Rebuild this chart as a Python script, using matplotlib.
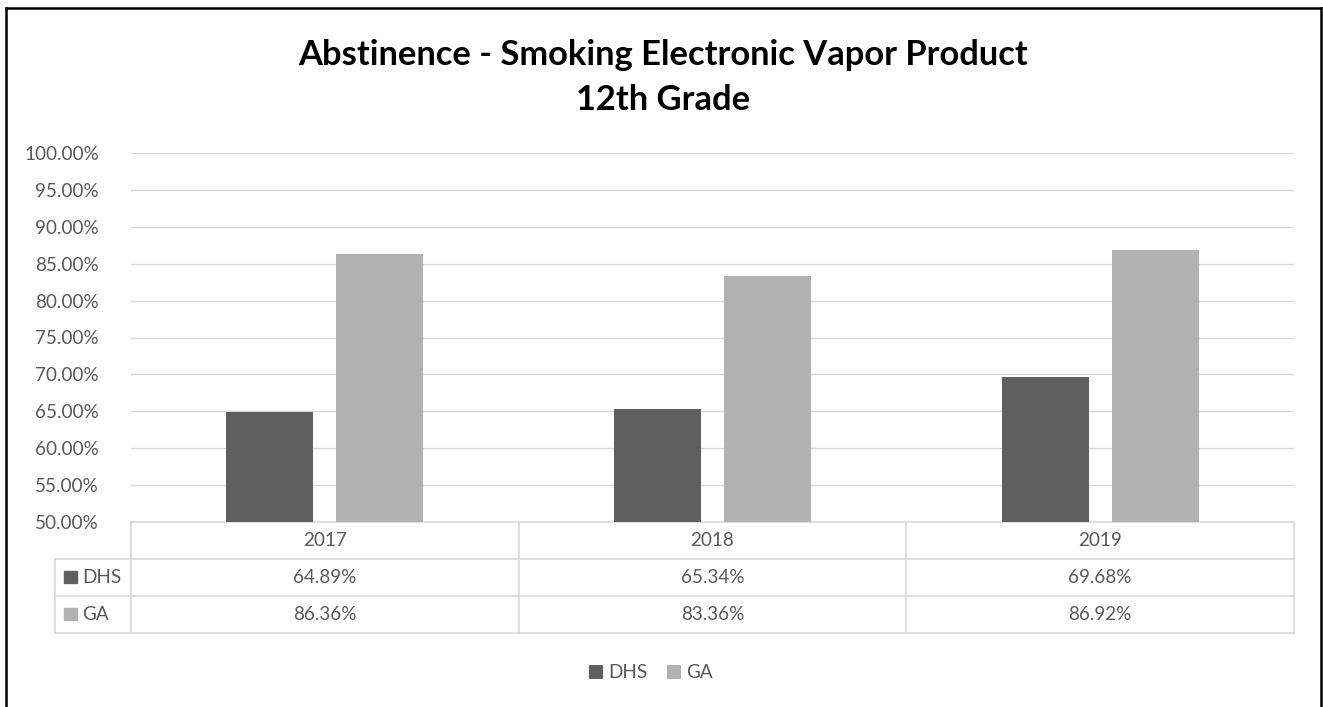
import matplotlib
matplotlib.use('Agg')
import matplotlib.pyplot as plt
from matplotlib.lines import Line2D
from matplotlib.patches import Rectangle
import matplotlib.transforms as mtransforms

plt.rcParams['font.family'] = ['Lato', 'DejaVu Sans']

# ── data ──────────────────────────────────────────────────────────────
years = ['2017', '2018', '2019']
dhs = [64.89, 65.34, 69.68]
ga = [86.36, 83.36, 86.92]
series_names = ['DHS', 'GA']
title_lines = ['Abstinence - Smoking Electronic Vapor Product', '12th Grade']

# ── style ─────────────────────────────────────────────────────────────
C_DHS = '#5f5f5f'
C_GA = '#b2b2b2'
TXT = '#595959'
GRID = '#d9d9d9'

W, H = 1323, 707
fig = plt.figure(figsize=(W / 100, H / 100), dpi=100)
fig.patch.set_facecolor('white')

# axes placed in pixel coordinates
x0, x1 = 131, 1294
y_top, y_bot = 153, 522
ax = fig.add_axes([x0 / W, 1 - y_bot / H, (x1 - x0) / W, (y_bot - y_top) / H])

xs = list(range(len(years)))
bw = 0.224
off = 0.142
b1 = ax.bar([x - off for x in xs], [v - 50 for v in dhs], bottom=50, width=bw,
            color=C_DHS, label='DHS', zorder=3)
b2 = ax.bar([x + off for x in xs], [v - 50 for v in ga], bottom=50, width=bw,
            color=C_GA, label='GA', zorder=3)

fs = 13.6
ax.set_xlim(-0.5, len(years) - 0.5)
ax.set_ylim(50, 100)
ax.set_yticks(range(50, 101, 5))
ax.set_yticklabels([f'{v:.2f}%' for v in range(50, 101, 5)])
ax.tick_params(axis='y', length=0, pad=23, labelsize=fs, labelcolor=TXT)
ax.tick_params(axis='x', length=0, labelbottom=False)
ax.grid(axis='y', color=GRID, linewidth=1, zorder=0)
for s in ['top', 'right', 'left']:
    ax.spines[s].set_visible(False)
ax.spines['bottom'].set_color(GRID)
ax.spines['bottom'].set_linewidth(1.2)

# ── data table under the axis ─────────────────────────────────────────
tr = mtransforms.blended_transform_factory(ax.transData, ax.transAxes)
rh = 0.1
lab_left = -0.0653
lkw = dict(color=GRID, linewidth=1.2, clip_on=False)

# horizontal lines
for k in (1, 2, 3):
    ax.plot([lab_left, 1], [-k * rh, -k * rh], transform=ax.transAxes, **lkw)
# vertical lines
for b in [x - 0.5 for x in xs] + [len(years) - 0.5]:
    ax.plot([b, b], [0, -3 * rh], transform=tr, **lkw)
ax.plot([lab_left, lab_left], [-rh, -3 * rh], transform=ax.transAxes, **lkw)

for i, yr in enumerate(years):
    ax.text(i, -0.5 * rh, yr, transform=tr, ha='center', va='center',
            fontsize=fs, color=TXT)
for r, (vals, name, col) in enumerate(zip([dhs, ga], series_names, [C_DHS, C_GA])):
    yc = -(r + 1.5) * rh
    for i, v in enumerate(vals):
        ax.text(i, yc, f'{v:.2f}%', transform=tr, ha='center', va='center',
                fontsize=fs, color=TXT)
    ax.add_patch(Rectangle((lab_left + 0.0077, yc - 0.0165), 0.0112, 0.033,
                           transform=ax.transAxes, color=col, clip_on=False))
    ax.text(lab_left + 0.0235, yc, name, transform=ax.transAxes, ha='left',
            va='center', fontsize=fs, color=TXT)

# ── title ─────────────────────────────────────────────────────────────
fig.text(663 / W, 1 - 55 / H, title_lines[0], ha='center', va='center',
         fontsize=24.8, fontweight='bold', color='black')
fig.text(663 / W, 1 - 100 / H, title_lines[1], ha='center', va='center',
         fontsize=24.8, fontweight='bold', color='black')

# ── legend ────────────────────────────────────────────────────────────
fig.legend(handles=[b1, b2], labels=series_names, loc='center',
           bbox_to_anchor=(651 / W, 1 - 673 / H), ncol=2, frameon=False,
           fontsize=fs, handlelength=0.75, handleheight=0.75,
           handletextpad=0.3, columnspacing=1.0, labelcolor=TXT)

# ── outer frame (left, top, right) ────────────────────────────────────
fkw = dict(color='black', linewidth=1.8, transform=fig.transFigure)
fig.add_artist(Line2D([6 / W, 6 / W], [0, 1 - 8 / H], **fkw))
fig.add_artist(Line2D([6 / W, 1321 / W], [1 - 8 / H, 1 - 8 / H], **fkw))
fig.add_artist(Line2D([1321 / W, 1321 / W], [0, 1 - 8 / H], **fkw))

fig.savefig('out.png', dpi=100)
